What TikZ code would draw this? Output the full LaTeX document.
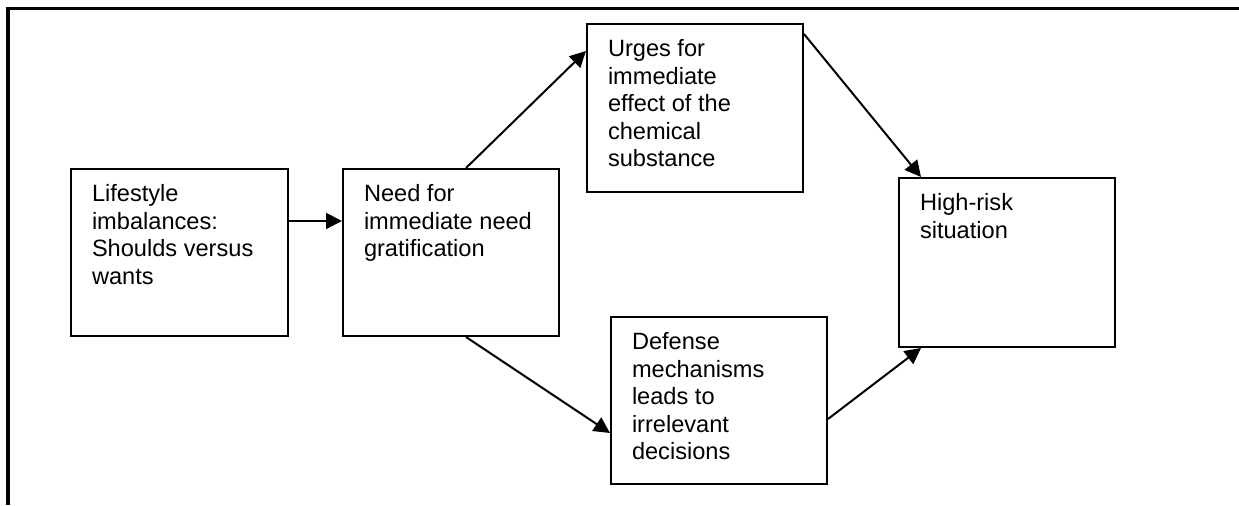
\documentclass[tikz,border=0pt]{standalone}
\usepackage{fontspec}
\setmainfont{Liberation Sans}
\usetikzlibrary{arrows.meta}

\begin{document}
\begin{tikzpicture}[x=0.5pt, y=-0.5pt,
		stage/.style={draw, line width=1pt, anchor=north west, inner xsep=10.5pt, inner ysep=6.9pt, font=\fontsize{11.8}{13.7}\selectfont},
		flow/.style={line width=1pt, -{Triangle[length=8pt,width=8pt]}},
		frame/.style={line width=1.6pt}]
	\useasboundingbox (0,0) rectangle (1239,505);
	\draw [frame] (1239,8.5) -| (8,505);
	% stages
	\node (life) [stage] at (70,168) {\parbox[t][69.7pt][t]{87.5pt}{\raggedright\strut Lifestyle\\imbalances:\\Shoulds versus\\wants}};
	\node (need) [stage] at (342,168) {\parbox[t][69.7pt][t]{87pt}{\raggedright\strut Need for\\immediate need\\gratification}};
	\node (urges) [stage] at (586,23) {\parbox[t][70.2pt][t]{87pt}{\raggedright\strut Urges for\\immediate\\effect of the\\chemical\\substance}};
	\node (defense) [stage] at (610,316) {\parbox[t][69.7pt][t]{87pt}{\raggedright\strut Defense\\mechanisms\\leads to\\irrelevant\\decisions}};
	\node (risk) [stage] at (898,177) {\parbox[t][70.7pt][t]{87pt}{\raggedright\strut High-risk\\situation}};
	% arrows
	\draw [flow] ([yshift=15.75pt]life.east) -- ([yshift=15.75pt]need.west);
	\draw [flow] ([xshift=7.5pt]need.north) -- ([yshift=28.5pt]urges.west);
	\draw [flow] ([yshift=37pt]urges.east) -- ([xshift=-43pt]risk.north);
	\draw [flow] ([xshift=7.5pt]need.south) -- ([yshift=-16.25pt]defense.west);
	\draw [flow] ([yshift=-9.25pt]defense.east) -- ([xshift=-43pt]risk.south);
\end{tikzpicture}
\end{document}
